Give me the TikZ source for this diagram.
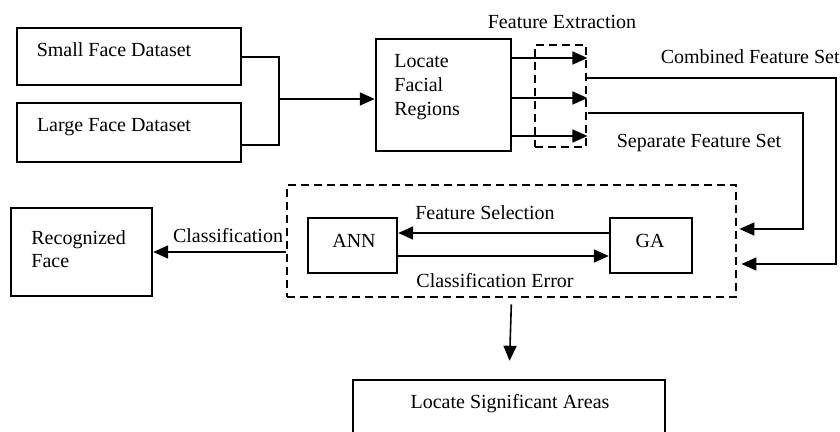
\documentclass[tikz,border=0pt]{standalone}
\usepackage{fontspec}
\setmainfont{Liberation Serif}
\usetikzlibrary{arrows.meta}
\begin{document}
\begin{tikzpicture}[x=0.5pt,y=-0.5pt,
  every node/.style={font=\fontsize{10}{11.8}\selectfont},
  box/.style={draw, line width=1.2pt, inner sep=0pt},
  dbox/.style={draw, line width=1.4pt, dash pattern=on 4pt off 2.5pt, inner sep=0pt},
  conn/.style={line width=0.8pt},
  arr/.style={line width=0.8pt, -{Triangle[length=7.5pt,width=6.5pt]}},
  lbl/.style={inner sep=0pt}]
\useasboundingbox (0,0) rectangle (840,432);
\begin{scope}
\clip (0,0) rectangle (840,432);
% boxes
\node[box, minimum width=112pt, minimum height=28.5pt] (small) at (129,56.5) {};
\node[box, minimum width=112pt, minimum height=29.5pt] (large) at (129,132.5) {};
\node[box, minimum width=67.5pt, minimum height=56pt] (locate) at (443.5,95) {};
\node[dbox, minimum width=25.5pt, minimum height=51pt] (fe) at (560.5,96) {};
\node[dbox, minimum width=224.5pt, minimum height=56pt] (big) at (511.5,241) {};
\node[box, minimum width=44.5pt, minimum height=27.5pt] (ann) at (352.5,245.5) {};
\node[box, minimum width=41pt, minimum height=27.5pt] (ga) at (651,245.5) {};
\node[box, minimum width=70.5pt, minimum height=44pt] (rec) at (81.5,252) {};
\node[box, minimum width=156pt, minimum height=30pt] (lsa) at (509,410) {};
\end{scope}
% texts
\node[lbl] (smallT) at (114,50) {Small Face Dataset};
\node[lbl] (largeT) at (114,127) {Large Face Dataset};
\node[lbl, anchor=north west, align=left] (locT) at (394,54.5) {Locate\\Facial\\Regions};
\node[lbl] (feT) at (562,22) {Feature Extraction};
\node[lbl, anchor=east] (cfsT) at (840,57) {Combined Feature Set};
\node[lbl] (sfsT) at (699,143) {Separate Feature Set};
\node[lbl] (fsT) at (485,213) {Feature Selection};
\node[lbl] (ceT) at (495,281) {Classification Error};
\node[lbl] (annT) at (354,241) {ANN};
\node[lbl] (gaT) at (650,241) {GA};
\node[lbl, anchor=north west, align=left] (recT) at (31,230) {Recognized\\Face};
\node[lbl] (clT) at (228,236) {Classification};
\node[lbl] (lsaT) at (510,404) {Locate Significant Areas};
% coordinates
\coordinate (j1) at (279,57);
\coordinate (j2) at (279,145);
\coordinate (jm) at (279,99);
\coordinate (e1) at (512,58);
\coordinate (e2) at (512,98);
\coordinate (e3) at (512,136);
\coordinate (c0) at (586,78);
\coordinate (c1) at (836,78);
\coordinate (c2) at (836,264);
\coordinate (s0) at (588,113);
\coordinate (s1) at (803,113);
\coordinate (s2) at (803,229);
\coordinate (fs) at (0,233);
\coordinate (ce) at (0,256);
\coordinate (cl) at (0,252);
% connectors
\draw[conn, line width=1.2pt] (small.east |- j1) -- (j1) -- (j2) -- (large.east |- j2);
\draw[arr] (jm) -- (locate.west |- jm);
\draw[arr] (e1) -- (fe.east |- e1);
\draw[arr] (e2) -- (fe.east |- e2);
\draw[arr] (e3) -- (fe.east |- e3);
\draw[arr] (c0) -- (c1) -- (c2) -- ([xshift=2pt]big.east |- c2);
\draw[arr] (s0) -- (s1) -- (s2) -- ([xshift=1pt]big.east |- s2);
\draw[arr] (ga.west |- fs) -- (ann.east |- fs);
\draw[arr] (ann.east |- ce) -- (ga.west |- ce);
\draw[arr] (big.west |- cl) -- (rec.east |- cl);
\draw[arr, shorten <=3pt, shorten >=9pt] (big.south) -- (lsa.north);
\end{tikzpicture}
\end{document}
